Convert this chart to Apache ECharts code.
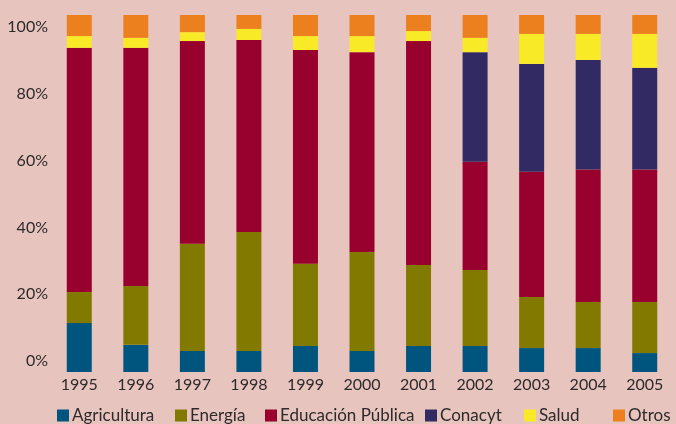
<!DOCTYPE html>
<html>
<head>
<meta charset="utf-8">
<script src="https://cdn.jsdelivr.net/npm/echarts@6/dist/echarts.min.js"></script>
<style>
    html, body { margin: 0; padding: 0; background: #e8c4bf; }
    #chart { width: 676px; height: 424px; }
</style>
</head>
<body>
<div id="chart"></div>
<script>
    // años
    var years = ['1995', '1996', '1997', '1998', '1999', '2000', '2001', '2002', '2003', '2004', '2005'];

    // porcentaje por rubro
    var agricultura = [13.7, 7.6, 5.9, 5.9, 7.3, 5.9, 7.3, 7.3, 6.7, 6.7, 5.3];
    var energia     = [8.7, 16.5, 30.0, 33.3, 23.0, 27.7, 22.7, 21.3, 14.3, 12.9, 14.3];
    var educacion   = [68.4, 66.7, 56.8, 53.8, 59.9, 56.0, 62.7, 30.3, 35.1, 37.1, 37.1];
    var conacyt     = [0, 0, 0, 0, 0, 0, 0, 30.7, 30.2, 30.7, 28.5];
    var salud       = [3.3, 2.8, 2.5, 3.1, 3.9, 4.5, 2.8, 4.0, 8.4, 7.3, 9.5];
    var otros       = [5.9, 6.4, 4.8, 3.9, 5.9, 5.9, 4.5, 6.4, 5.3, 5.3, 5.3];

    var names  = ['Agricultura', 'Energía', 'Educación Pública', 'Conacyt', 'Salud', 'Otros'];
    var colors = ['#00557f', '#827a00', '#98002e', '#322a63', '#f9ea27', '#ec801e'];
    var values = [agricultura, energia, educacion, conacyt, salud, otros];
    var legendLeft = [57, 175, 265, 425, 524, 613];

    var font = 'Lato, "Open Sans", sans-serif';
    var textColor = '#2d2a2a';

    var chart = echarts.init(document.getElementById('chart'));

    var series = names.map(function (n, i) {
        return {
            name: n,
            type: 'bar',
            stack: 'total',
            barWidth: 25,
            itemStyle: { color: colors[i] },
            data: values[i]
        };
    });

    var legends = names.map(function (n, i) {
        return {
            data: [n],
            left: legendLeft[i],
            top: 407,
            padding: 0,
            itemWidth: 12,
            itemHeight: 12,
            icon: 'rect',
            textStyle: { color: textColor, fontSize: 17, fontFamily: font, padding: [0, 0, 0, -2] }
        };
    });

    chart.setOption({
        backgroundColor: '#e8c4bf',
        animation: false,
        legend: legends,
        grid: [
            { left: 51, right: 3, top: 15, bottom: 52 },
            { left: 51, right: 3, top: 27, bottom: 63 }
        ],
        xAxis: [
            {
                type: 'category',
                data: years,
                gridIndex: 0,
                axisLine: { show: false },
                axisTick: { show: false },
                axisLabel: { color: textColor, fontSize: 16, fontFamily: font, margin: 5 }
            },
            { type: 'value', gridIndex: 1, show: false }
        ],
        yAxis: [
            { type: 'value', gridIndex: 0, min: 0, max: 100, show: false },
            {
                type: 'value',
                gridIndex: 1,
                min: 0,
                max: 100,
                interval: 20,
                axisLine: { show: false },
                axisTick: { show: false },
                splitLine: { show: false },
                axisLabel: { color: textColor, fontSize: 16, fontFamily: font, margin: 3, formatter: '{value}%' }
            }
        ],
        series: series
    });
</script>
</body>
</html>
